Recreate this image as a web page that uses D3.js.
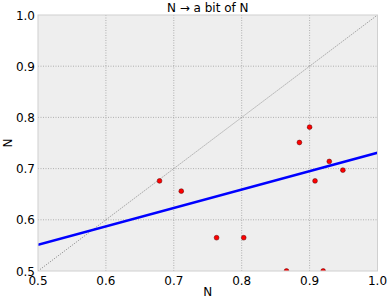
<!DOCTYPE html>
<html><head><meta charset="utf-8">
<script src="https://cdn.jsdelivr.net/npm/d3@7"></script>
<style>body{margin:0;background:#fff}svg{display:block}text{font-family:"DejaVu Sans",sans-serif}</style>
</head><body><svg id="c" width="390" height="303"></svg>
<script>
const xTicks = [0.5, 0.6, 0.7, 0.8, 0.9, 1.0];
const yTicks = [0.5, 0.6, 0.7, 0.8, 0.9, 1.0];
const pointsX = [0.679, 0.711, 0.763, 0.803, 0.866, 0.920, 0.908, 0.929, 0.949, 0.900, 0.885];
const pointsY = [0.676, 0.656, 0.565, 0.565, 0.500, 0.500, 0.676, 0.714, 0.697, 0.781, 0.751];
const fitX = [0.5, 1.0];
const fitY = [0.551, 0.731];
const diagX = [0.5, 1.0];
const diagY = [0.5, 1.0];
const title = "N \u2192 a bit of N";
const xLabel = "N", yLabel = "N";

const svg = d3.select("#c");
const L = 38, R = 377.5, T = 15, B = 271;
const x = d3.scaleLinear().domain([0.5, 1.0]).range([L, R]);
const y = d3.scaleLinear().domain([0.5, 1.0]).range([B, T]);

svg.append("defs").append("clipPath").attr("id", "clip")
  .append("rect").attr("x", L).attr("y", T).attr("width", R - L).attr("height", B - T);

svg.append("rect").attr("x", L).attr("y", T).attr("width", R - L).attr("height", B - T)
  .attr("fill", "#eeeeee");

const g = svg.append("g").attr("clip-path", "url(#clip)");
g.selectAll(".gx").data(xTicks.slice(1, -1)).enter().append("line")
  .attr("x1", d => x(d)).attr("x2", d => x(d)).attr("y1", T).attr("y2", B)
  .attr("stroke", "#a0a0a0").attr("stroke-width", 0.8).attr("stroke-dasharray", "1,1.5");
g.selectAll(".gy").data(yTicks.slice(1, -1)).enter().append("line")
  .attr("y1", d => y(d)).attr("y2", d => y(d)).attr("x1", L).attr("x2", R)
  .attr("stroke", "#a0a0a0").attr("stroke-width", 0.8).attr("stroke-dasharray", "1,1.5");

const line = d3.line().x(d => x(d[0])).y(d => y(d[1]));
g.append("path").datum(diagX.map((v, i) => [v, diagY[i]])).attr("d", line)
  .attr("fill", "none").attr("stroke", "#666").attr("stroke-width", 0.8).attr("stroke-dasharray", "1,1.5");
g.append("path").datum(fitX.map((v, i) => [v, fitY[i]])).attr("d", line)
  .attr("fill", "none").attr("stroke", "#0000ff").attr("stroke-width", 2.5);

g.selectAll(".pt").data(pointsX.map((v, i) => [v, pointsY[i]])).enter().append("circle")
  .attr("cx", d => x(d[0])).attr("cy", d => y(d[1])).attr("r", 2.4)
  .attr("fill", "#ff0000").attr("stroke", "#550000").attr("stroke-width", 0.5);

svg.append("rect").attr("x", L).attr("y", T).attr("width", R - L).attr("height", B - T)
  .attr("fill", "none").attr("stroke", "#d0d0d0").attr("stroke-width", 1);

svg.selectAll(".xt").data(xTicks).enter().append("text")
  .attr("x", d => x(d)).attr("y", B + 14).attr("text-anchor", "middle")
  .attr("font-size", 12).attr("fill", "#000").text(d => d.toFixed(1));
svg.selectAll(".yt").data(yTicks).enter().append("text")
  .attr("x", L - 3).attr("y", d => y(d) + 4.5).attr("text-anchor", "end")
  .attr("font-size", 12).attr("fill", "#000").text(d => d.toFixed(1));

svg.append("text").attr("x", (L + R) / 2).attr("y", 12).attr("text-anchor", "middle")
  .attr("font-size", 12).text(title);
svg.append("text").attr("x", (L + R) / 2).attr("y", 296).attr("text-anchor", "middle")
  .attr("font-size", 12).text(xLabel);
svg.append("text").attr("transform", `translate(11.5,${(T + B) / 2}) rotate(-90)`)
  .attr("text-anchor", "middle").attr("font-size", 12).text(yLabel);
</script></body></html>
